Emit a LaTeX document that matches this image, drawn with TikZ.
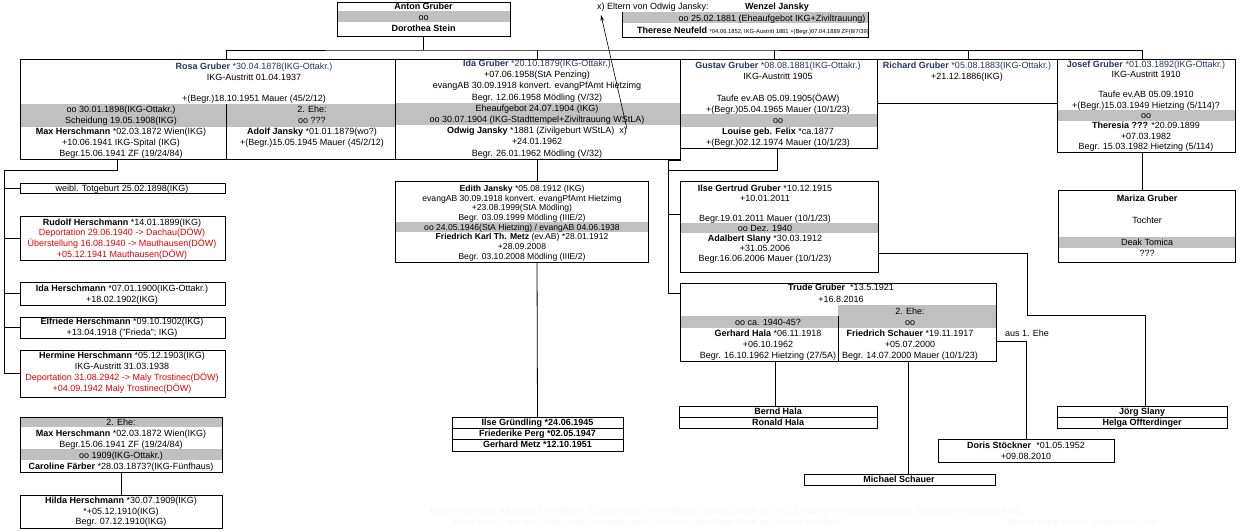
\documentclass[tikz,border=0pt]{standalone}
\usepackage{fontspec}
\setmainfont{Liberation Sans}
\usetikzlibrary{arrows.meta}

\definecolor{bandgray}{RGB}{192,192,192}
\definecolor{namenavy}{RGB}{31,56,100}
\definecolor{deptred}{RGB}{232,0,0}
\definecolor{faintnote}{RGB}{250,245,245}

\newcommand\fsn{\fontsize{9}{10}\selectfont}
\newcommand\fsm{\fontsize{8.6}{9.5}\selectfont}
\newcommand\fst{\fontsize{5.8}{7}\selectfont}

% one box of the chart, given by its corners
\newcommand\famcell[6][]{%
  \node[famcell,#1,minimum width={#5-#3},minimum height={#6-#4}] (#2) at (#3,#4) {};}
% text lines of a box, centred at x, first line at y, then step
\newcommand\famrows[6][]{%
  \foreach \entry [count=\i from 0] in {#6}
    \node[rowtext,#1] (#2-\i) at ({#3},{#4+\i*#5+3}) {\entry};}

\tikzset{
  famcell/.style={draw, line width=0.8pt, anchor=north west, inner sep=0pt, outer sep=0pt},
  band/.style={fill=bandgray},
  rowtext/.style={inner sep=0pt, anchor=base, font=\fsn},
  link/.style={line width=0.8pt},
}

\begin{document}
\begin{tikzpicture}[x=1pt, y=-1pt]
\useasboundingbox (0,0) rectangle (1244,531);

% grey marriage bands
\fill[band] (337,11) rectangle (510,22);
\fill[band] (622,12) rectangle (868,23);
\fill[band] (20,104) rectangle (395,127);
\fill[band] (395,103) rectangle (680,125);
\fill[band] (680,114) rectangle (877,126.5);
\fill[band] (1057,110) rectangle (1235,121);
\fill[band] (1058,236.5) rectangle (1235,247.5);
\fill[band] (395,222) rectangle (648,232);
\fill[band] (680,223) rectangle (878,233);
\fill[band] (838,305) rectangle (996,328);
\fill[band] (680,316) rectangle (838,328);
\fill[band] (20,417) rectangle (222,427);
\fill[band] (20,449) rectangle (222,460);

% boxes
\famcell{anton}{337}{2}{510}{36}
\famcell[draw=none]{wenzel}{622}{12}{868}{37}
\draw[line width=0.8pt] (wenzel.north west) |- (wenzel.south east) -- (wenzel.north east);
\famcell{rosa}{20}{59}{395}{159}
\draw[line width=0.8pt] (226,104) -- (226,159);
\famcell{ida}{395}{59}{680}{159}
\famcell{gustav}{680}{59}{877}{148}
\famcell{richard}{877}{59}{1057}{103}
\famcell{josef}{1057}{59}{1235}{152}
\famcell{mariza}{1058}{190}{1235}{262}

\famcell{totgeburt}{20}{183}{225}{193}
\famcell{rudolf}{20}{216}{225}{260}
\famcell{idah}{20}{282}{225}{305}
\famcell{elfriede}{20}{317}{225}{338}
\famcell{hermine}{20}{350}{225}{397}
\famcell{maxtwo}{20}{417}{222}{472}
\famcell{hilda}{20}{495}{222}{528}

\famcell{edith}{395}{181}{648}{262}
\famcell{gruendling}{452}{417}{623}{451}
\draw[line width=0.8pt] (452,428) -- (623,428) (452,439) -- (623,439);

\famcell{ilse}{680}{181}{878}{272}
\famcell{trude}{680}{283}{996}{361}
\draw[line width=0.8pt] (838,316) -- (838,361);
\famcell{bernd}{679}{406}{877}{428}
\draw[line width=0.8pt] (679,417) -- (877,417);
\famcell{michael}{804}{474}{995}{485}
\famcell{doris}{938}{439}{1114}{462}
\famcell{joerg}{1057}{406}{1227}{428}
\draw[line width=0.8pt] (1057,417) -- (1227,417);

% texts
\famrows{antont}{423.5}{6.5}{11.2}{{\textbf{Anton Gruber}},oo,{\textbf{Dorothea Stein}}}
\node[rowtext, anchor=base west] (eltern) at (597,9.5) {x) Eltern von Odwig Jansky:};
\node[rowtext] (wenzelname) at (777,9.5) {\textbf{Wenzel Jansky}};
\node[rowtext] (wenzel-0) at (772,21) {oo 25.02.1881 (Eheaufgebot IKG+Ziviltrauung)};
\node[rowtext] (wenzel-1) at (753,33) {\textbf{Therese Neufeld} {\fst *04.06.1852, IKG-Austritt 1881 +(Begr.)07.04.1889 ZF(8/7/39)}};

\famrows{rosat}{254}{66.5}{10.6}{{\color{namenavy}\textbf{Rosa Gruber} *30.04.1878(IKG-Ottakr.)},{IKG-Austritt 01.04.1937},{},{+(Begr.)18.10.1951 Mauer (45/2/12)}}
\famrows{maxt}{121}{109}{11}{{oo 30.01.1898(IKG-Ottakr.)},{Scheidung 19.05.1908(IKG)},{\textbf{Max Herschmann} *02.03.1872 Wien(IKG)},{+10.06.1941 IKG-Spital (IKG)},{Begr.15.06.1941 ZF (19/24/84)}}
\famrows{adolft}{312}{109}{11}{{2. Ehe:},{oo ???},{\textbf{Adolf Jansky} *01.01.1879(wo?)},{+(Begr.)15.05.1945 Mauer (45/2/12)}}
\famrows{idat}{537}{63.5}{11.2}{{\color{namenavy}\textbf{Ida Gruber} *20.10.1879(IKG-Ottakr.)},{+07.06.1958(StA Penzing)},{evangAB 30.09.1918 konvert. evangPfAmt Hietzimg},{Begr. 12.06.1958 Mödling (V/32)},{Eheaufgebot 24.07.1904 (IKG)},{oo 30.07.1904 (IKG-Stadttempel+Ziviltrauung WStLA)},{\textbf{Odwig Jansky} *1881 (Zivilgeburt WStLA)\ \ x)},{+24.01.1962},{Begr. 26.01.1962 Mödling (V/32)}}
\famrows{gustavt}{778}{65}{11}{{\color{namenavy}\textbf{Gustav Gruber} *08.08.1881(IKG-Ottakr.)},{IKG-Austritt 1905},{},{Taufe ev.AB 05.09.1905(ÖAW)},{+(Begr.)05.04.1965 Mauer (10/1/23)},{oo},{\textbf{Louise geb. Felix} *ca.1877},{+(Begr.)02.12.1974 Mauer (10/1/23)}}
\famrows{richardt}{967}{65}{11}{{\color{namenavy}\textbf{Richard Gruber} *05.08.1883(IKG-Ottakr.)},{+21.12.1886(IKG)}}
\famrows{joseft}{1146}{64}{10.3}{{\color{namenavy}\textbf{Josef Gruber} *01.03.1892(IKG-Ottakr.)},{IKG-Austritt 1910},{},{Taufe ev.AB 05.09.1910},{+(Begr.)15.03.1949 Hietzing (5/114)?},{oo},{\textbf{Theresia ???} *20.09.1899},{+07.03.1982},{Begr. 15.03.1982 Hietzing (5/114)}}
\famrows{marizat}{1147}{198}{11}{{\textbf{Mariza Gruber}},{},{Tochter},{},{Deak Tomica},{???}}

\famrows{totgeburtt}{122}{188}{11}{{weibl. Totgeburt 25.02.1898(IKG)}}
\famrows{rudolft}{122}{222}{10.7}{{\textbf{Rudolf Herschmann} *14.01.1899(IKG)},{\color{deptred}Deportation 29.06.1940 -> Dachau(DÖW)},{\color{deptred}Überstellung 16.08.1940 -> Mauthausen(DÖW)},{\color{deptred}+05.12.1941 Mauthausen(DÖW)}}
\famrows{idaht}{122}{288}{11.5}{{\textbf{Ida Herschmann} *07.01.1900(IKG-Ottakr.)},{+18.02.1902(IKG)}}
\famrows{elfriedet}{122}{321.5}{11}{{\textbf{Elfriede Herschmann} *09.10.1902(IKG)},{+13.04.1918 ("Frieda"; IKG)}}
\famrows{herminet}{122}{355}{11}{{\textbf{Hermine Herschmann} *05.12.1903(IKG)},{IKG-Austritt 31.03.1938},{\color{deptred}Deportation 31.08.2942 -> Maly Trostinec(DÖW)},{\color{deptred}+04.09.1942 Maly Trostinec(DÖW)}}
\famrows{maxtwot}{121}{422}{11}{{2. Ehe:},{\textbf{Max Herschmann} *02.03.1872 Wien(IKG)},{Begr.15.06.1941 ZF (19/24/84)},{oo 1909(IKG-Ottakr.)},{\textbf{Caroline Färber} *28.03.1873?(IKG-Fünfhaus)}}
\famrows{hildat}{121}{500.5}{10.5}{{\textbf{Hilda Herschmann} *30.07.1909(IKG)},{*+05.12.1910(IKG)},{Begr. 07.12.1910(IKG)}}

\famrows[font=\fsm]{editht}{522}{188.3}{9.7}{{\textbf{Edith Jansky} *05.08.1912 (IKG)},{evangAB 30.09.1918 konvert. evangPfAmt Hietzimg},{+23.08.1999(StA Mödling)},{Begr. 03.09.1999 Mödling (IIIE/2)},{oo 24.05.1946(StA Hietzing) / evangAB 04.06.1938},{\textbf{Friedrich Karl Th. Metz} (ev.AB) *28.01.1912},{+28.09.2008},{Begr. 03.10.2008 Mödling (IIIE/2)}}
\famrows[font=\fsn\bfseries]{gruendlingt}{537.5}{422.5}{11}{{Ilse Gründling *24.06.1945},{Friederike Perg *02.05.1947},{Gerhard Metz *12.10.1951}}

\famrows{ilset}{765}{188}{10}{{\textbf{Ilse Gertrud Gruber} *10.12.1915},{+10.01.2011},{},{Begr.19.01.2011 Mauer (10/1/23)},{oo Dez. 1940},{\textbf{Adalbert Slany} *30.03.1912},{+31.05.2006},{Begr.16.06.2006 Mauer (10/1/23)}}
\famrows{trudet}{841}{287}{12}{{\textbf{Trude Gruber}\ \ *13.5.1921},{+16.8.2016}}
\famrows{gerhardt}{768}{322}{11}{{oo ca. 1940-45?},{\textbf{Gerhard Hala} *06.11.1918},{+06.10.1962},{Begr. 16.10.1962 Hietzing (27/5A)}}
\famrows{friedricht}{910}{311}{11}{{2. Ehe:},{oo},{\textbf{Friedrich Schauer} *19.11.1917},{+05.07.2000},{Begr. 14.07.2000 Mauer (10/1/23)}}
\node[rowtext] (ausehe) at (1027,336) {aus 1. Ehe};
\famrows[font=\fsn\bfseries]{berndt}{778}{411.5}{11}{{Bernd Hala},{Ronald Hala}}
\famrows[font=\fsn\bfseries]{michaelt}{899}{479.5}{11}{{Michael Schauer}}
\famrows{dorist}{1026}{445}{11}{{\textbf{Doris Stöckner}\ \ *01.05.1952},{+09.08.2010}}
\famrows[font=\fsn\bfseries]{joergt}{1142}{411.5}{11}{{Jörg Slany},{Helga Offterdinger}}

% faint notes at the foot
\node[rowtext, anchor=base west, text=faintnote] (note1) at (430,513) {Herschman, das Haus von ihrer Mutter (Rosa Gruber) in der Oskar-Jascha-Gasse 63 1942 Eingang von Invalidenstrasse, heute Wittgensteinstrasse};
\node[rowtext, anchor=base west, text=faintnote] (note2) at (453,525) {Adolf Jansky war mit Odwig nicht verwandt, zufällig Namensgleichheit, Grab am Maurer Friedhof};
\node[rowtext, anchor=base west, text=faintnote] (note3) at (1005,525) {"Dieses Haus könnte es gewesen sein"};

% connectors
\coordinate (bus) at (423.5,50);
\coordinate (rosa-in) at (226,59);
\coordinate (ida-in) at (537,59);
\coordinate (gustav-in) at (774,59);
\coordinate (richard-in) at (968,59);
\coordinate (josef-in) at (1142,59);
\draw[link] (anton.south) -- (bus);
\draw[link] (rosa-in) |- (bus) -| (josef-in);
\foreach \c in {ida-in,gustav-in,richard-in}
  \draw[link] (\c) -- (\c |- bus);

\coordinate (xmark) at (627,129);
\coordinate (eltern-tip) at (601,15);
\draw[line width=0.6pt, -{Stealth[length=6pt,width=3.5pt]}] (xmark) -- (eltern-tip);

\coordinate (max-out) at (117,159);
\coordinate (spine) at (4,170);
\draw[link] (max-out) |- (spine) |- (hermine.west);
\foreach \k in {totgeburt,rudolf,idah,elfriede}
  \draw[link] (\k.west) -- (\k.west -| spine);
\draw[link] (maxtwo.south) -- (hilda.north);

\coordinate (ida-out) at (537,159);
\draw[link] (ida-out) -- (ida-out |- edith.north);
\draw[link] (ida-out |- edith.south) -- (gruendling.north);

\coordinate (gustav-out) at (777,148);
\coordinate (gspine) at (668,170);
\coordinate (gstub) at (668,160);
\coordinate (ilse-in) at (680,214);
\coordinate (trude-in) at (680,293);
\draw[link] (gustav-out) |- (gspine);
\draw[link] (gustav.south west) |- (gstub) |- (trude-in);
\draw[link] (ilse-in) -- (ilse-in -| gstub);

\coordinate (slany-out) at (878,253);
\coordinate (slany-turn) at (1027,315);
\coordinate (joerg-in) at (1145,406);
\draw[link] (slany-out) -| (slany-turn) -| (joerg-in);

\coordinate (gerhard-out) at (775,361);
\coordinate (friedrich-out) at (908,361);
\coordinate (friedrich-side) at (996,341);
\draw[link] (gerhard-out) -- (gerhard-out |- bernd.north);
\draw[link] (friedrich-out) -- (friedrich-out |- michael.north);
\draw[link] (friedrich-side) -| (doris.north);

\coordinate (josef-out) at (1142,152);
\draw[link] (josef-out) -- (josef-out |- mariza.north);
\end{tikzpicture}
\end{document}
